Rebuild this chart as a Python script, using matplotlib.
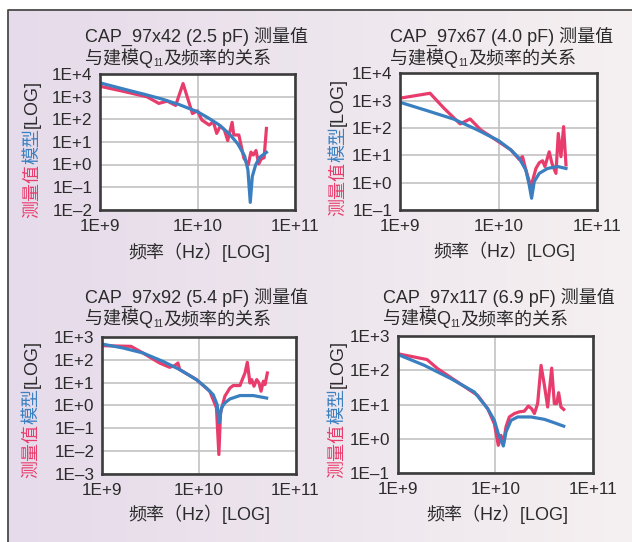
import numpy as np
import matplotlib
matplotlib.use("Agg")
import matplotlib.pyplot as plt
from matplotlib.transforms import Affine2D, IdentityTransform
from matplotlib.lines import Line2D
from matplotlib.ticker import FixedLocator, NullLocator, FixedFormatter

plt.rcParams['font.family'] = ['Liberation Sans', 'Noto Sans CJK SC', 'DejaVu Sans']

# ---------------- data (log10 values) ----------------
# Panel 1: CAP_97x42
p1_meas_logf = [9.0, 9.224, 9.483, 9.603, 9.69, 9.776, 9.852, 9.948, 10.0, 10.045, 10.12, 10.162,
                10.197, 10.234, 10.276, 10.31, 10.355, 10.372, 10.424, 10.476, 10.52, 10.548, 10.572,
                10.6, 10.628, 10.655, 10.683, 10.707]
p1_meas_logq = [3.47, 3.26, 3.0, 2.71, 2.81, 2.62, 3.59, 2.26, 2.38, 1.97, 1.75, 1.90,
                1.38, 1.71, 1.53, 1.06, 1.87, 1.31, 1.31, 0.28, -0.02, 0.55, 0.42,
                0.62, 0.03, 0.25, 0.30, 1.60]
p1_model_logf = [9.0, 9.293, 9.466, 9.638, 9.81, 10.0, 10.12, 10.224, 10.328, 10.414, 10.483, 10.517,
                 10.541, 10.562, 10.597, 10.638, 10.707]
p1_model_logq = [3.62, 3.29, 3.10, 2.90, 2.66, 2.34, 2.04, 1.75, 1.35, 0.91, 0.38, -0.24,
                 -1.68, -0.53, -0.01, 0.32, 0.54]

# Panel 2: CAP_97x67
p2_meas_logf = [9.0, 9.305, 9.447, 9.61, 9.712, 9.82, 10.0, 10.125, 10.21, 10.244, 10.278, 10.329,
                10.38, 10.414, 10.447, 10.471, 10.515, 10.542, 10.583, 10.607, 10.634, 10.661, 10.685]
p2_meas_logq = [3.09, 3.27, 2.72, 2.15, 2.33, 1.93, 1.50, 1.20, 0.85, 0.95, 0.46, -0.15,
                0.52, 0.73, 0.80, 0.59, 1.13, 0.71, 0.34, 1.80, 0.95, 2.05, 0.65]
p2_model_logf = [9.0, 9.278, 9.549, 9.786, 10.0, 10.125, 10.21, 10.278, 10.312, 10.336, 10.363,
                 10.414, 10.498, 10.6, 10.685]
p2_model_logq = [2.94, 2.63, 2.32, 1.93, 1.54, 1.20, 0.89, 0.46, -0.09, -0.57, 0.04,
                 0.34, 0.52, 0.59, 0.52]

# Panel 3: CAP_97x92
p3_meas_logf = [9.0, 9.30, 9.422, 9.595, 9.699, 9.751, 9.785, 9.803, 9.976, 10.114, 10.183, 10.208,
                10.225, 10.27, 10.322, 10.356, 10.426, 10.45, 10.478, 10.502, 10.529, 10.547, 10.571,
                10.599, 10.623, 10.644, 10.668, 10.685, 10.709]
p3_meas_logq = [2.62, 2.59, 2.30, 1.86, 1.67, 1.74, 1.86, 1.57, 1.13, 0.62, -0.11, -2.16,
                -0.33, 0.40, 0.76, 0.87, 0.87, 1.13, 1.42, 1.89, 0.98, 1.13, 0.84,
                1.13, 0.98, 0.62, 1.06, 0.91, 1.42]
p3_model_logf = [9.0, 9.215, 9.422, 9.63, 9.803, 9.976, 10.08, 10.149, 10.19, 10.211, 10.235,
                 10.27, 10.322, 10.426, 10.564, 10.702]
p3_model_logq = [2.69, 2.52, 2.30, 1.93, 1.57, 1.13, 0.76, 0.47, 0.03, -0.77, -0.11,
                 0.11, 0.28, 0.43, 0.43, 0.32]

# Panel 4: CAP_97x117
p4_meas_logf = [9.0, 9.30, 9.41, 9.614, 9.819, 9.922, 9.99, 10.03, 10.058, 10.082, 10.109, 10.143,
                10.195, 10.246, 10.297, 10.338, 10.372, 10.40, 10.433, 10.468, 10.502, 10.536,
                10.577, 10.604, 10.628, 10.648, 10.672, 10.70]
p4_meas_logq = [2.49, 2.32, 2.05, 1.66, 1.27, 0.88, 0.44, -0.19, 0.10, -0.14, 0.35, 0.64,
                0.74, 0.79, 0.81, 0.96, 0.88, 0.74, 1.03, 2.15, 1.57, 0.93,
                2.07, 1.03, 1.03, 1.35, 0.93, 0.86]
p4_model_logf = [9.0, 9.273, 9.546, 9.785, 9.922, 9.99, 10.03, 10.082, 10.109, 10.16, 10.229,
                 10.365, 10.502, 10.604, 10.70]
p4_model_logq = [2.47, 2.15, 1.76, 1.37, 0.88, 0.54, 0.15, -0.21, 0.20, 0.54, 0.64,
                 0.64, 0.57, 0.47, 0.37]

title_line1 = ["CAP_97x42 (2.5 pF) 测量值", "CAP_97x67 (4.0 pF) 测量值",
               "CAP_97x92 (5.4 pF) 测量值", "CAP_97x117 (6.9 pF) 测量值"]
title_line2 = ("与建模Q", "11", "及频率的关系")
ylim_exp = [(-2, 4), (-1, 4), (-3, 3), (-1, 3)]
x_ticks = [1e9, 1e10, 1e11]
x_tick_labels = ["1E+9", "1E+10", "1E+11"]
xlabel_text = "频率（Hz）[LOG]"
ylabel_parts = ("测量值", "模型", "[LOG]")

series = [(p1_meas_logf, p1_meas_logq, p1_model_logf, p1_model_logq),
          (p2_meas_logf, p2_meas_logq, p2_model_logf, p2_model_logq),
          (p3_meas_logf, p3_meas_logq, p3_model_logf, p3_model_logq),
          (p4_meas_logf, p4_meas_logq, p4_model_logf, p4_model_logq)]

# ---------------- layout (pixel positions, top-left origin) ----------------
W, H = 632, 542
PINK = '#E83D6C'
BLUE = '#3A80C1'
TXT = '#2B2B2B'

layout = [
    dict(rect=(100, 74.3, 295, 209.6), title=(85, 41.7, 63.5), ylab=(37, 148.7), xlab=(199, 258)),
    dict(rect=(400, 73.3, 597, 210), title=(390, 41.7, 63.5), ylab=(343, 147.5), xlab=(504.5, 257)),
    dict(rect=(102, 337, 295.5, 473.7), title=(85, 302.7, 324.3), ylab=(36.5, 409.3), xlab=(199.5, 520)),
    dict(rect=(397.7, 336.3, 593, 473), title=(382.7, 302.7, 324), ylab=(342.5, 408.5), xlab=(497.5, 520)),
]

fig = plt.figure(figsize=(W / 100, H / 100), dpi=100)
fig.patch.set_facecolor('white')
TLp = Affine2D().scale(1, -1).translate(0, H)

# background gradient panel
bx0, by0 = 7.5, 9.5
bg = fig.add_axes([bx0 / W, 0, 1 - bx0 / W, 1 - by0 / H])
c_left = np.array([0.902, 0.859, 0.918])
c_right = np.array([0.961, 0.941, 0.945])
t = np.linspace(0, 1, 256)
grad = (c_left[None, :] * (1 - t[:, None]) + c_right[None, :] * t[:, None])[None, :, :]
bg.imshow(grad, aspect='auto', extent=[0, 1, 0, 1])
bg.set_axis_off()
bg.set_zorder(-5)
fig.add_artist(Line2D([bx0, bx0, W + 2], [H + 2, by0, by0], transform=TLp,
                      color='#4A4A4A', lw=1.3))

renderer = fig.canvas.get_renderer()


def seq_text(pieces, x, y, vertical=False, center=False):
    """pieces: list of (text, kwargs, down_offset_px). x,y in top-left pixel coords (baseline start)."""
    arts, lens = [], []
    for s, kw, off in pieces:
        tx = fig.text(0, 0, s, transform=IdentityTransform(), rotation=90 if vertical else 0,
                      rotation_mode='anchor', ha='left', va='baseline', **kw)
        bb = tx.get_window_extent(renderer)
        lens.append(bb.height if vertical else bb.width)
        arts.append((tx, off))
    total = sum(lens)
    if vertical:
        cur = (H - y) - (total / 2 if center else 0)
        for (tx, off), L in zip(arts, lens):
            tx.set_position((x + off, cur))
            cur += L
    else:
        cur = x - (total / 2 if center else 0)
        for (tx, off), L in zip(arts, lens):
            tx.set_position((cur, H - y - off))
            cur += L


FS_T = 13
FS_TICK = 12.3

for i, (lay, ser) in enumerate(zip(layout, series)):
    l, tp, r, b = lay['rect']
    ax = fig.add_axes([l / W, 1 - b / H, (r - l) / W, (b - tp) / H])
    mf, mq, sf, sq = ser
    ax.plot(10 ** np.array(mf), 10 ** np.array(mq), color=PINK, lw=2.3, zorder=3,
            solid_joinstyle='round')
    ax.plot(10 ** np.array(sf), 10 ** np.array(sq), color=BLUE, lw=2.3, zorder=4,
            solid_joinstyle='round')
    ax.set_xscale('log')
    ax.set_yscale('log')
    lo, hi = ylim_exp[i]
    ax.set_xlim(1e9, 1e11)
    ax.set_ylim(10.0 ** lo, 10.0 ** hi)
    ax.xaxis.set_major_locator(FixedLocator(x_ticks))
    ax.xaxis.set_major_formatter(FixedFormatter(x_tick_labels))
    yt = [10.0 ** k for k in range(lo, hi + 1)]
    ylabels = [("1E+%d" % k) if k >= 0 else ("1E–%d" % (-k)) for k in range(lo, hi + 1)]
    ax.yaxis.set_major_locator(FixedLocator(yt))
    ax.yaxis.set_major_formatter(FixedFormatter(ylabels))
    ax.xaxis.set_minor_locator(NullLocator())
    ax.yaxis.set_minor_locator(NullLocator())
    ax.tick_params(length=0, labelsize=FS_TICK, labelcolor=TXT)
    ax.tick_params(axis='y', pad=5.5)
    ax.tick_params(axis='x', pad=6.5)
    ax.grid(True, color='#C2C2C2', lw=1.2)
    ax.set_axisbelow(True)
    for sp in ax.spines.values():
        sp.set_color('#3C3C3C')
        sp.set_linewidth(1.9)
        sp.set_zorder(6)
    ax.set_facecolor('white')

    tx, b1, b2 = lay['title']
    fig.text(tx, H - b1, title_line1[i], transform=IdentityTransform(), ha='left', va='baseline',
             fontsize=FS_T, color=TXT)
    seq_text([(title_line2[0], dict(fontsize=FS_T, color=TXT), 0),
              (title_line2[1], dict(fontsize=7, color=TXT), 3),
              (title_line2[2], dict(fontsize=FS_T, color=TXT), 0)], tx, b2)

    xc, xb = lay['xlab']
    fig.text(xc, H - xb, xlabel_text, transform=IdentityTransform(), ha='center', va='baseline',
             fontsize=FS_T, color=TXT)

    yx, yc = lay['ylab']
    seq_text([(ylabel_parts[0], dict(fontsize=FS_T, color=PINK), 0),
              (ylabel_parts[1], dict(fontsize=FS_T, color=BLUE), 0),
              (ylabel_parts[2], dict(fontsize=FS_T, color=TXT), 0)], yx, yc, vertical=True, center=True)

fig.savefig('out.png', dpi=100)
